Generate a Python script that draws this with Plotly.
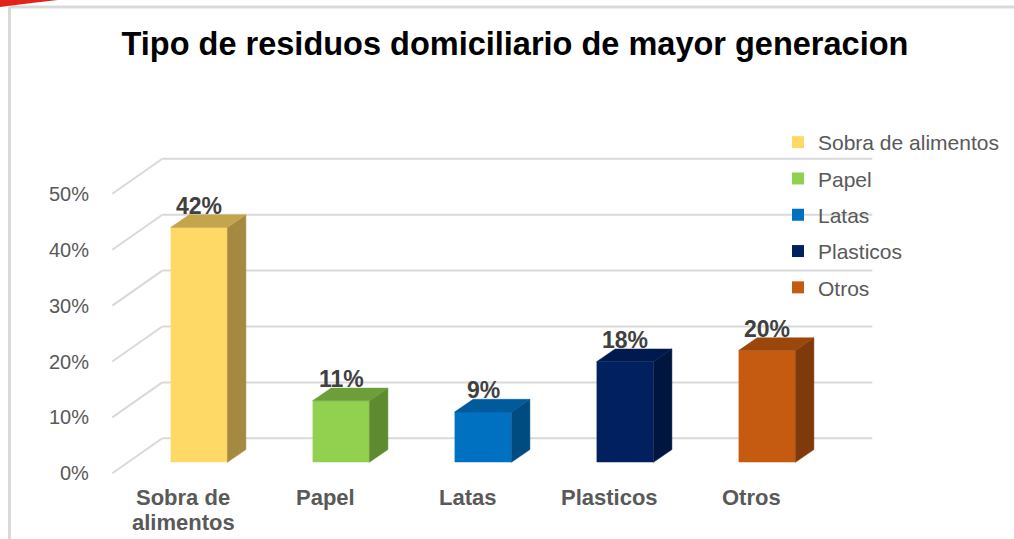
import plotly.graph_objects as go

# ---- data ----
categories = ["Sobra de alimentos", "Papel", "Latas", "Plasticos", "Otros"]
axis_labels = ["Sobra de<br>alimentos", "Papel", "Latas", "Plasticos", "Otros"]
values = [42, 11, 9, 18, 20]
tick_values = [0, 10, 20, 30, 40, 50]
tick_labels = ["0%", "10%", "20%", "30%", "40%", "50%"]
title_text = "Tipo de residuos domiciliario de mayor generacion"

# ---- styles ----
front_colors = ["#FFD966", "#92D050", "#0070C0", "#002060", "#C55A11"]
top_colors = ["#C4A54B", "#6E9E3A", "#005A9C", "#001A4F", "#9A460D"]
side_colors = ["#A48A40", "#5E8A30", "#004B80", "#00163F", "#7F390B"]

W, H = 1014, 539
X0_PX, X_STEP = 199.0, 142.0   # pixel of category 0 centre, pixels per category
Y0_PX, PPU = 462.3, 5.59        # pixel of value 0 (bar plane), pixels per percent

def px_x(p):
    return p / X_STEP

def px_y(p):
    return p / PPU

BAR_W = 0.40
BAR_DX, BAR_DY = px_x(18.5), px_y(12.7)      # bar depth
FRONT_DX, FRONT_DY = px_x(-15.7), px_y(-11)  # floor front edge relative to bar plane
BACK_DX, BACK_DY = px_x(34.3), px_y(24)      # back wall relative to bar plane
LEFT, RIGHT = -0.5, len(categories) - 0.5

GRID = "#D9D9D9"
TXT = "#595959"
FONT = "Liberation Sans, Arial, sans-serif"

fig = go.Figure()

# front faces (real bars)
for i, (c, v) in enumerate(zip(categories, values)):
    fig.add_trace(go.Bar(
        x=[i], y=[v], width=BAR_W, name=c,
        marker=dict(color=front_colors[i], line=dict(width=0)),
        legendgroup=c, showlegend=True, hoverinfo="name+y",
    ))

# side and top faces (3D effect), derived from the values
for i, v in enumerate(values):
    xr = i + BAR_W / 2
    xl = i - BAR_W / 2
    fig.add_trace(go.Scatter(
        x=[xr, xr + BAR_DX, xr + BAR_DX, xr, xr],
        y=[0, BAR_DY, v + BAR_DY, v, 0],
        fill="toself", fillcolor=side_colors[i], mode="lines",
        line=dict(width=0.5, color=side_colors[i]),
        showlegend=False, hoverinfo="skip",
    ))
    fig.add_trace(go.Scatter(
        x=[xl, xr, xr + BAR_DX, xl + BAR_DX, xl],
        y=[v, v, v + BAR_DY, v + BAR_DY, v],
        fill="toself", fillcolor=top_colors[i], mode="lines",
        line=dict(width=0.5, color=top_colors[i]),
        showlegend=False, hoverinfo="skip",
    ))

shapes = []
# back wall gridlines and left wall diagonals
for t in tick_values:
    shapes.append(dict(type="line", xref="x", yref="y", layer="below",
                       x0=LEFT + BACK_DX, x1=RIGHT + BACK_DX,
                       y0=t + BACK_DY, y1=t + BACK_DY,
                       line=dict(color=GRID, width=2)))
    shapes.append(dict(type="line", xref="x", yref="y", layer="below",
                       x0=LEFT + FRONT_DX, x1=LEFT + BACK_DX,
                       y0=t + FRONT_DY, y1=t + BACK_DY,
                       line=dict(color=GRID, width=2)))

# chart frame (decoration)
shapes.append(dict(type="line", xref="paper", yref="paper", layer="below",
                   x0=9.5 / W, x1=1, y0=1 - 7 / H, y1=1 - 7 / H,
                   line=dict(color="#D9D9D9", width=3)))
shapes.append(dict(type="line", xref="paper", yref="paper", layer="below",
                   x0=9.5 / W, x1=9.5 / W, y0=0, y1=1 - 7 / H,
                   line=dict(color="#D9D9D9", width=3)))
shapes.append(dict(type="path", xref="paper", yref="paper", layer="above",
                   path=f"M 0,1 L {58/W},1 Q {30/W},{1-3/H} 0,{1-7/H} Z",
                   fillcolor="#E3231B", line=dict(width=0)))

annotations = []
# y tick labels on the front edge
for t, lab in zip(tick_values, tick_labels):
    annotations.append(dict(x=LEFT + FRONT_DX - px_x(21), y=t + FRONT_DY,
                            xref="x", yref="y", text=lab, showarrow=False,
                            xanchor="right", yanchor="middle",
                            font=dict(family=FONT, size=20, color=TXT)))
# category labels (one annotation per line for tight line spacing)
for i, lab in enumerate(axis_labels):
    for j, line in enumerate(lab.split("<br>")):
        annotations.append(dict(x=i + FRONT_DX, y=FRONT_DY - px_y(24 + 25 * j),
                                xref="x", yref="y", text=f"<b>{line}</b>",
                                showarrow=False, xanchor="center",
                                yanchor="middle",
                                font=dict(family=FONT, size=22, color=TXT)))
# value labels
for i, v in enumerate(values):
    annotations.append(dict(x=i, y=v + px_y(22), xref="x", yref="y",
                            text=f"<b>{v}%</b>", showarrow=False,
                            xanchor="center", yanchor="middle",
                            font=dict(family=FONT, size=23, color="#404040")))

fig.update_layout(
    width=W, height=H,
    margin=dict(l=0, r=0, t=0, b=0),
    paper_bgcolor="white", plot_bgcolor="white",
    title=dict(text=f"<b>{title_text}</b>", x=515 / W, y=1 - 44 / H,
               xanchor="center", yanchor="middle",
               font=dict(family=FONT, size=32.5, color="black")),
    xaxis=dict(range=[-X0_PX / X_STEP, (W - X0_PX) / X_STEP], visible=False,
               fixedrange=True),
    yaxis=dict(range=[(Y0_PX - H) / PPU, Y0_PX / PPU], visible=False,
               fixedrange=True),
    barmode="overlay",
    showlegend=True,
    legend=dict(x=778 / W, y=1 - 122 / H, xanchor="left", yanchor="top",
                bgcolor="rgba(0,0,0,0)", tracegroupgap=6,
                font=dict(family=FONT, size=21, color=TXT)),
    shapes=shapes, annotations=annotations,
)

fig.write_html("out.html")
